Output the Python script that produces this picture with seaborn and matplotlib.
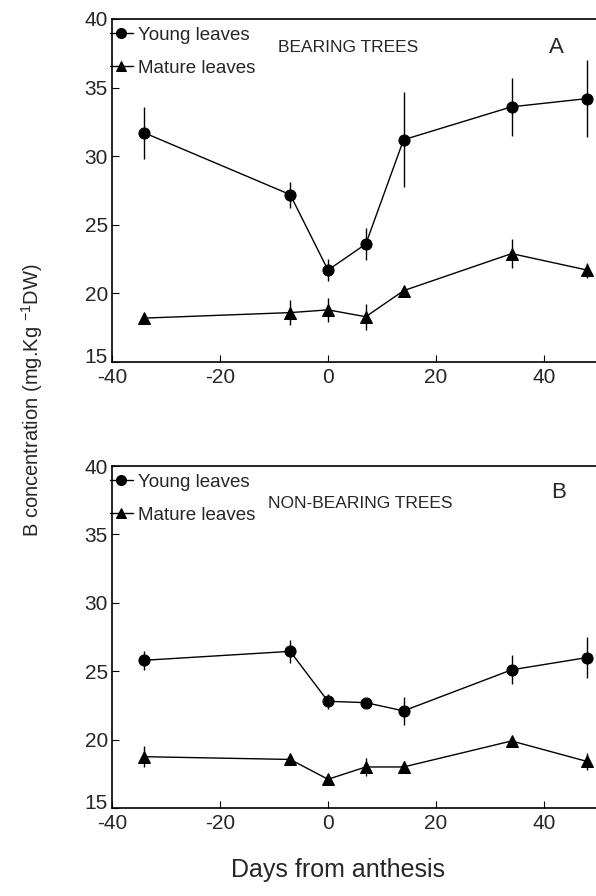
import matplotlib
matplotlib.use("Agg")
import matplotlib.pyplot as plt
import matplotlib.transforms as mtransforms
import seaborn as sns
import pandas as pd
import numpy as np

# days from anthesis
days = [-34, -7, 0, 7, 14, 34, 48]

# panel A - bearing trees
bearing_young = [31.7, 27.2, 21.7, 23.6, 31.2, 33.6, 34.2]
bearing_young_err = [1.9, 0.95, 0.8, 1.15, 3.45, 2.1, 2.8]
bearing_mature = [18.2, 18.6, 18.8, 18.3, 20.2, 22.9, 21.7]
bearing_mature_err = [0.35, 0.9, 0.9, 0.95, 0.2, 1.05, 0.55]

# panel B - non-bearing trees
nonbearing_young = [25.8, 26.45, 22.8, 22.7, 22.1, 25.1, 26.0]
nonbearing_young_err = [0.7, 0.85, 0.55, 0.1, 1.0, 1.05, 1.5]
nonbearing_mature = [18.75, 18.55, 17.1, 18.0, 18.0, 19.9, 18.4]
nonbearing_mature_err = [0.75, 0.4, 0.15, 0.65, 0.45, 0.15, 0.6]

xticks = [-40, -20, 0, 20, 40]
yticks = [15, 20, 25, 30, 35, 40]

sns.set_style("ticks")
plt.rcParams['font.family'] = ['Liberation Sans', 'DejaVu Sans']
plt.rcParams['axes.unicode_minus'] = False
plt.rcParams['mathtext.fontset'] = 'custom'
plt.rcParams['mathtext.rm'] = 'Liberation Sans'
plt.rcParams['mathtext.it'] = 'Liberation Sans'
plt.rcParams['mathtext.default'] = 'regular'

fig = plt.figure(figsize=(5.96, 8.96), dpi=100)
ax_a = fig.add_axes([112/596, 1-362/896, 486/596, 343/896])
ax_b = fig.add_axes([112/596, 1-808/896, 486/596, 342/896])


def draw_panel(ax, young, young_err, mature, mature_err, title, letter, title_xy, letter_xy):
    df = pd.DataFrame({"day": days + days,
                       "B": young + mature,
                       "leaf": ["Young leaves"]*len(days) + ["Mature leaves"]*len(days)})
    ax.errorbar(days, young, yerr=young_err, fmt="none", ecolor="black", elinewidth=1, capsize=0)
    ax.errorbar(days, mature, yerr=mature_err, fmt="none", ecolor="black", elinewidth=1, capsize=0)
    sns.lineplot(data=df, x="day", y="B", style="leaf", markers={"Young leaves": "o", "Mature leaves": "^"},
                 dashes=False, color="black", markersize=8, markeredgecolor="black",
                 linewidth=1, ax=ax, legend=True)
    ax.set_xlim(-40, 50)
    ax.set_ylim(15, 40)
    ax.set_xticks(xticks)
    ax.set_yticks(yticks)
    ax.set_xlabel("")
    ax.set_ylabel("")
    ax.tick_params(direction="in", length=5, width=0.8, labelsize=15, pad=3, color="black")
    ax.tick_params(axis="x", pad=4)
    # bottom y label sits a little higher, as in the original
    lab = ax.get_yticklabels()[0]
    lab.set_transform(lab.get_transform() + mtransforms.ScaledTranslation(0, 5/72, fig.dpi_scale_trans))
    ax.spines["right"].set_visible(False)
    for s in ["left", "top", "bottom"]:
        ax.spines[s].set_linewidth(1.2)
        ax.spines[s].set_color("black")
    ax.legend(loc="upper left", frameon=False, fontsize=13.5, handlelength=1.2,
              handletextpad=0.3, borderaxespad=0.0, borderpad=0.42, labelspacing=0.82,
              bbox_to_anchor=(-0.02, 1.0), markerscale=0.9)
    ax.text(title_xy[0], title_xy[1], title, transform=ax.transAxes, fontsize=12.5,
            ha="center", va="center")
    ax.text(letter_xy[0], letter_xy[1], letter, transform=ax.transAxes, fontsize=16,
            ha="center", va="center")


draw_panel(ax_a, bearing_young, bearing_young_err, bearing_mature, bearing_mature_err,
           "BEARING TREES", "A", ((348-112)/486, 1-(47-19)/343), ((556-112)/486, 1-(47-19)/343))
draw_panel(ax_b, nonbearing_young, nonbearing_young_err, nonbearing_mature, nonbearing_mature_err,
           "NON-BEARING TREES", "B", ((360-112)/486, 1-(503-466)/342), ((559-112)/486, 1-(492-466)/342))

fig.text(32/596, 1-400/896, "B concentration (mg.Kg $^{-1}$DW)", rotation=90,
         ha="center", va="center", fontsize=14.5)
fig.text(338/596, 1-870/896, "Days from anthesis", ha="center", va="center", fontsize=18)

fig.savefig("out.png", dpi=100)
